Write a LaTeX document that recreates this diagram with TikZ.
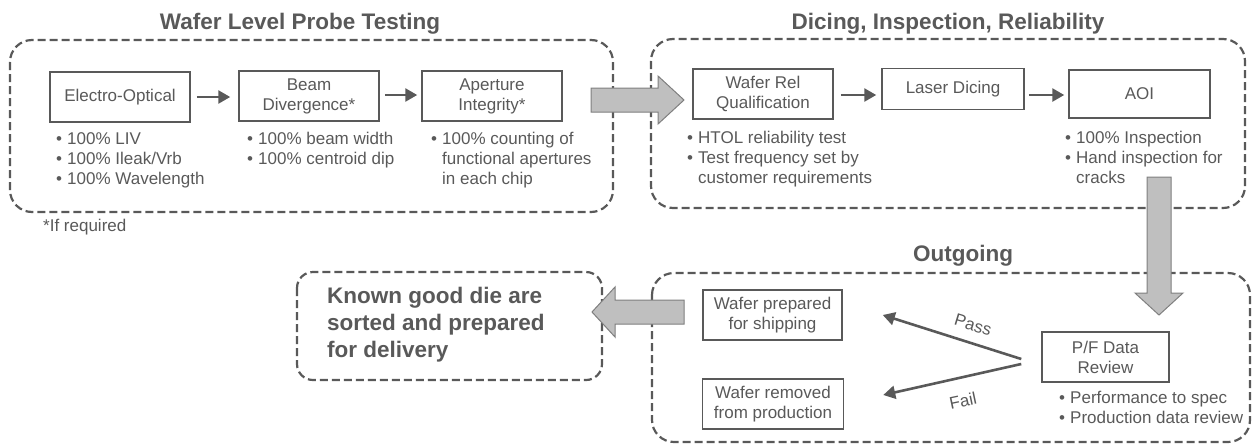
\documentclass[tikz,border=0pt]{standalone}
\usepackage{fontspec}
\setmainfont{Liberation Sans}
\usetikzlibrary{arrows.meta,calc}
\definecolor{tg}{HTML}{595959}
\definecolor{af}{HTML}{BFBFBF}
\definecolor{ab}{HTML}{7F7F7F}
\newcommand{\bitem}[4]{\node[btxt] (#1-b) at (#2,#3) {•}; \node[btxt] (#1) at ($(#2,#3)+(11,0)$) {#4};}
\begin{document}
\begin{tikzpicture}[x=1pt,y=-1pt,
  every node/.style={text=tg, inner sep=0pt},
  dbox/.style={draw=tg, line width=2.2pt, dash pattern=on 8pt off 4pt, rounded corners=22pt},
  pbox/.style={draw=tg, line width=1.5pt, fill=white, align=center, font=\fontsize{17}{20}\selectfont},
  btxt/.style={font=\fontsize{17}{20}\selectfont, anchor=base west},
  lbl/.style={font=\fontsize{17}{20}\selectfont},
  ttl/.style={font=\bfseries\fontsize{22.5}{27}\selectfont, anchor=base},
  sarrow/.style={draw=tg, line width=2.6pt, -{Triangle[length=12pt,width=13pt]}},
  bigarrow/.style={fill=af, draw=ab, line width=1pt}]
\useasboundingbox (0,0) rectangle (1255,445);

% dashed group boxes
\draw[dbox] (10,40) rectangle (613,212);
\draw[dbox] (651,39) rectangle (1245,208);
\draw[dbox] (652,273) rectangle (1250,442);
\draw[dbox, rounded corners=16pt] (297,272) rectangle (602,380);

% titles
\node[ttl] (t1) at (300,29) {Wafer Level Probe Testing};
\node[ttl] (t2) at (948,29) {Dicing, Inspection, Reliability};
\node[ttl] (t3) at (963,261) {Outgoing};

% process boxes
\node[pbox, minimum width=140pt, minimum height=50pt] (eo) at (120,97) {Electro-Optical};
\node[pbox, minimum width=140pt, minimum height=50pt] (bd) at (309,96) {Beam\\Divergence*};
\node[pbox, minimum width=140pt, minimum height=50pt] (ai) at (492,96) {Aperture\\Integrity*};
\node[pbox, minimum width=140pt, minimum height=50pt] (wr) at (763,94) {Wafer Rel\\Qualification};
\node[pbox, minimum width=142pt, minimum height=41pt] (ld) at (953,89) {Laser Dicing};
\node[pbox, minimum width=141pt, minimum height=48pt] (aoi) at (1139.5,94) {AOI};
\node[pbox, minimum width=139pt, minimum height=50pt] (wp) at (772.5,315) {Wafer prepared\\for shipping};
\node[pbox, minimum width=141pt, minimum height=50pt] (wrm) at (773,404) {Wafer removed\\from production};
\node[pbox, minimum width=127pt, minimum height=50pt] (pf) at (1105.5,357) {P/F Data\\Review};

% small arrows
\draw[sarrow, shorten <=6pt, shorten >=8pt] (eo.east) -- (bd.west |- eo.east);
\draw[sarrow, shorten <=5pt, shorten >=4pt] (bd.east |- 0,95) -- (ai.west |- 0,95);
\draw[sarrow, shorten <=7pt, shorten >=5pt] (wr.east |- 0,95) -- (ld.west |- 0,95);
\draw[sarrow, shorten <=4pt, shorten >=4pt] (ld.east |- 0,95) -- (aoi.west |- 0,95);

% pass / fail
\coordinate (ps) at ($(pf.west)+(-20,2)$);
\coordinate (pt) at ($(wp.east)+(40,0)$);
\coordinate (fs) at ($(pf.west)+(-20,7)$);
\coordinate (ft) at ($(wrm.east)+(39,-9)$);
\draw[sarrow] (ps) -- (pt);
\draw[sarrow] (fs) -- (ft);
\node[lbl, rotate=-17] (pass) at (973,325) {Pass};
\node[lbl, rotate=12] (fail) at (963,401) {Fail};

% bullet lists
\bitem{e1}{56}{144}{100\% LIV}
\bitem{e2}{56}{164}{100\% Ileak/Vrb}
\bitem{e3}{56}{184}{100\% Wavelength}
\bitem{b1}{247}{144}{100\% beam width}
\bitem{b2}{247}{164}{100\% centroid dip}
\bitem{a1}{431}{144}{100\% counting of}
\node[btxt] (a2) at (442,164) {functional apertures};
\node[btxt] (a3) at (442,184) {in each chip};
\bitem{w1}{687}{143}{HTOL reliability test}
\bitem{w2}{687}{163}{Test frequency set by}
\node[btxt] (w3) at (698,183) {customer requirements};
\bitem{o1}{1065}{143}{100\% Inspection}
\bitem{o2}{1065}{163}{Hand inspection for}
\node[btxt] (o3) at (1076,183) {cracks};
\bitem{p1}{1059}{403}{Performance to spec}
\bitem{p2}{1059}{423}{Production data review}

\node[btxt] (ifr) at (43,231) {*If required};

\node[font=\bfseries\fontsize{22.5}{27}\selectfont, align=left, anchor=west] (kgd) at (327,325) {Known good die are\\sorted and prepared\\for delivery};

% big gray arrows
\draw[bigarrow] (591,88) -- (658,88) -- (658,76) -- (684,100) -- (658,124) -- (658,112) -- (591,112) -- cycle;
\draw[bigarrow] (1147,177) -- (1171,177) -- (1171,293) -- (1183,293) -- (1159,315) -- (1135,293) -- (1147,293) -- cycle;
\draw[bigarrow] (684,300) -- (615,300) -- (615,287) -- (592,312) -- (615,337) -- (615,324) -- (684,324) -- cycle;
\end{tikzpicture}
\end{document}
